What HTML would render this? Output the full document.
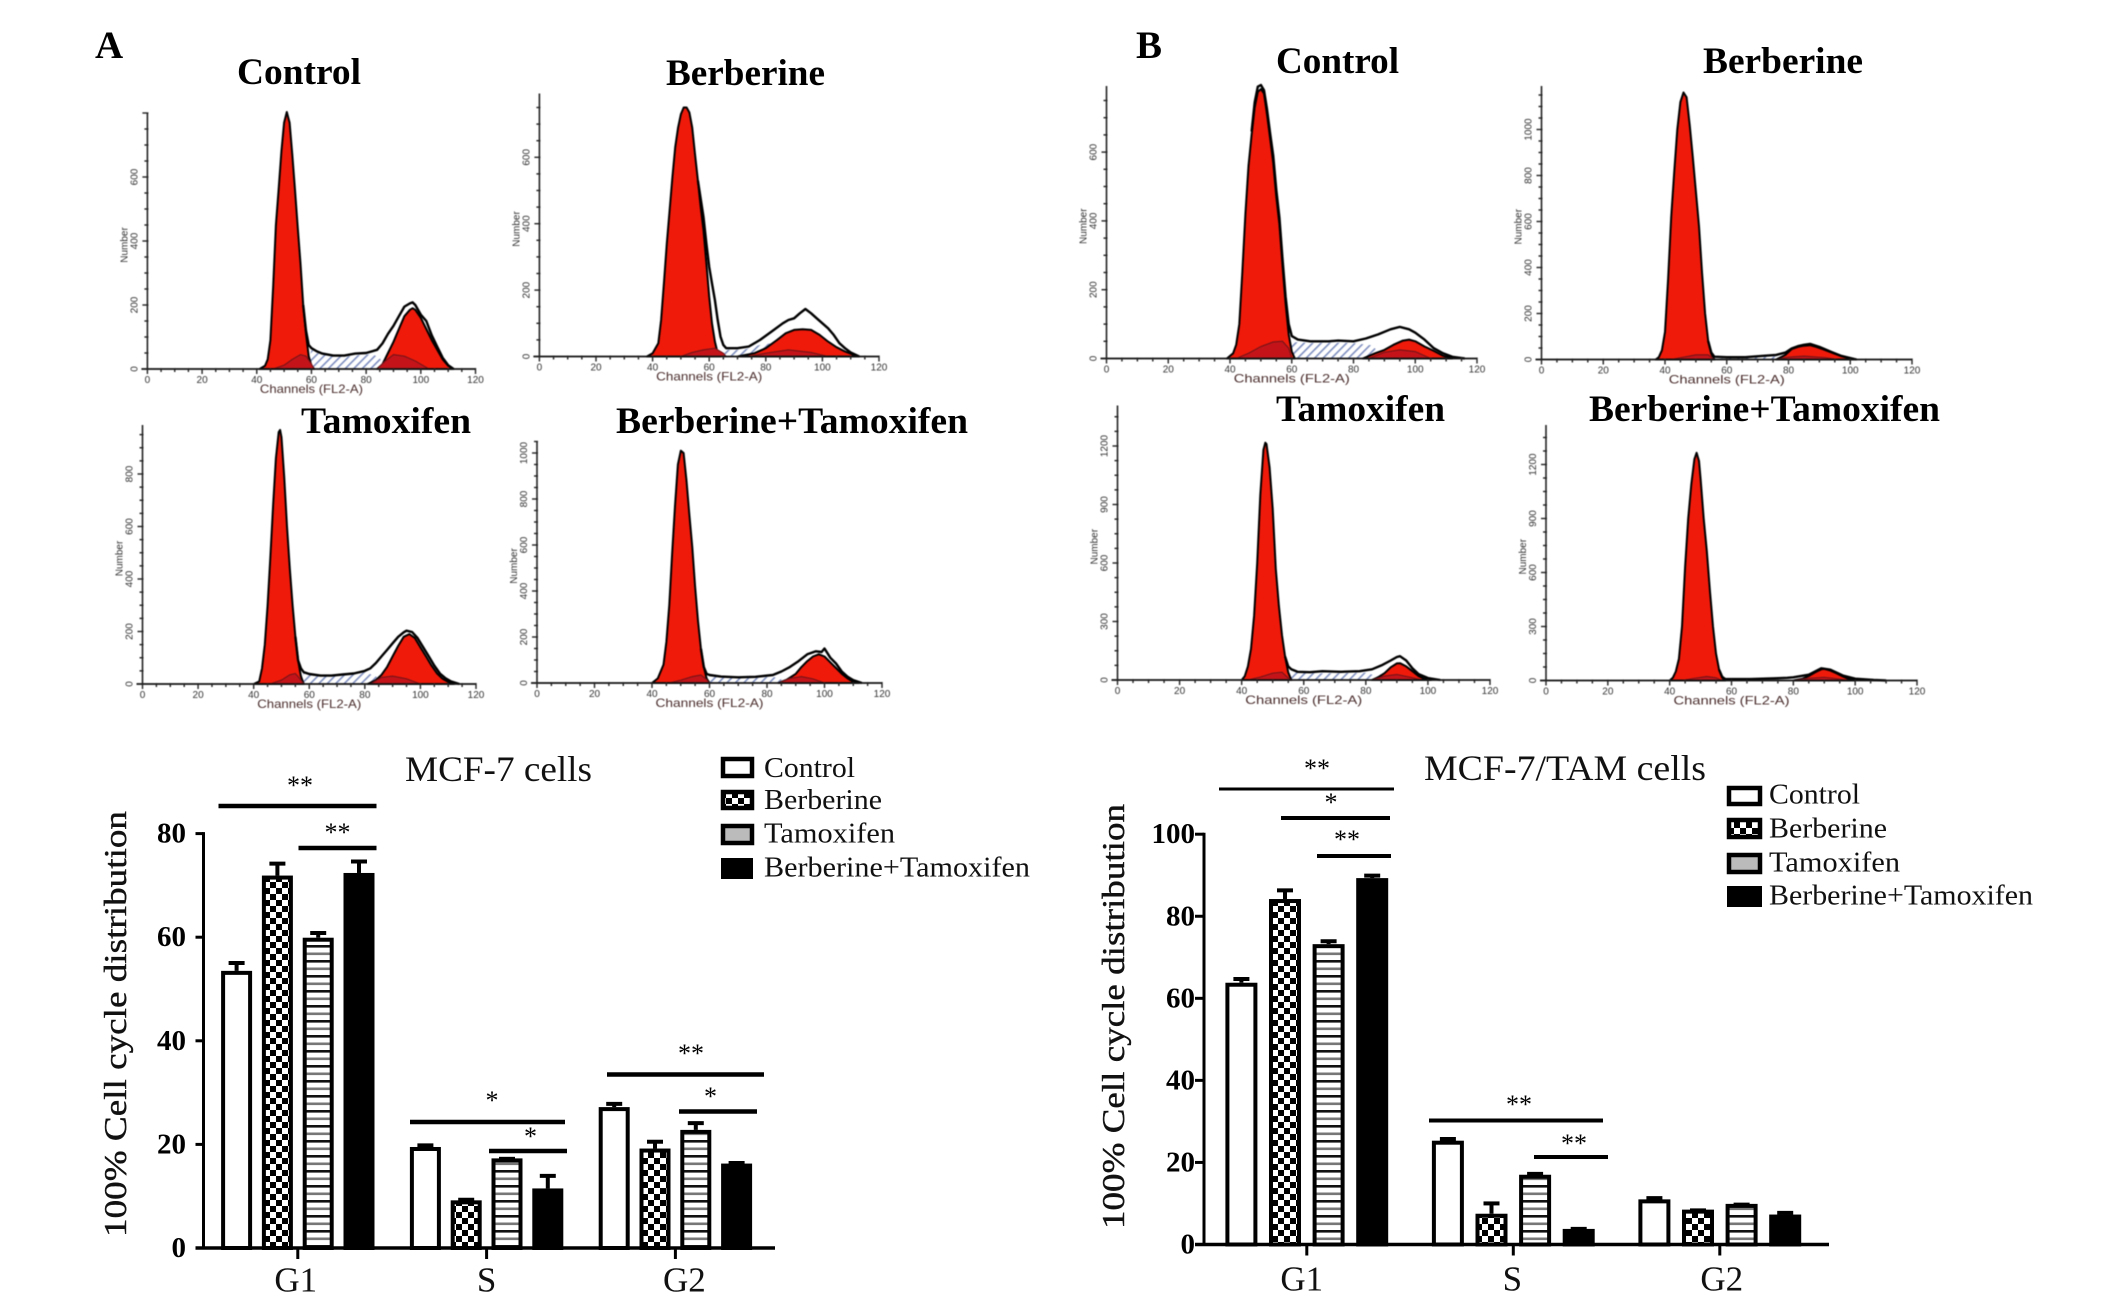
<!DOCTYPE html>
<html lang="en">
<head>
<meta charset="utf-8">
<title>Cell cycle distribution in MCF-7 and MCF-7/TAM cells</title>
<style>
html,body{margin:0;padding:0;background:#fff;width:2126px;height:1313px;overflow:hidden}
svg{display:block}
.panel{font-family:"Liberation Serif",serif;font-weight:bold;font-size:37px;fill:#000}
.letter{font-family:"Liberation Serif",serif;font-weight:bold;font-size:39px;fill:#000}
.ctitle{font-family:"Liberation Serif",serif;font-size:36px;fill:#111}
.ytitle{font-family:"Liberation Serif",serif;font-size:32px;fill:#111;stroke:#111;stroke-width:.4px}
.leg{font-family:"Liberation Serif",serif;font-size:29px;fill:#111}
.star{font-family:"Liberation Serif",serif;font-size:26px;fill:#000;text-anchor:middle}
.ytick{font-family:"Liberation Serif",serif;font-weight:bold;font-size:29px;fill:#000;text-anchor:end}
.cat{font-family:"Liberation Serif",serif;font-size:35px;fill:#111;text-anchor:middle}
.ft{font-family:"Liberation Sans",sans-serif;font-size:10px;fill:#333;text-anchor:middle}
.fc{font-family:"Liberation Sans",sans-serif;font-size:12px;fill:#4a2c2c;text-anchor:middle}
.fn{font-family:"Liberation Sans",sans-serif;font-size:10px;fill:#333;text-anchor:middle}
</style>
</head>
<body>
<svg id="fig" xmlns="http://www.w3.org/2000/svg" width="2126" height="1313" viewBox="0 0 2126 1313">
<defs>
<pattern id="checker" patternUnits="userSpaceOnUse" width="12" height="12"><rect width="12" height="12" fill="#fff"/><rect width="6" height="6" fill="#000"/><rect x="6" y="6" width="6" height="6" fill="#000"/></pattern>
<pattern id="stripes" patternUnits="userSpaceOnUse" width="15" height="15"><rect width="15" height="15" fill="#fff"/><rect y="0" width="15" height="2.6" fill="#111"/><rect y="7.5" width="15" height="2.6" fill="#777"/></pattern>
<pattern id="hatch" patternUnits="userSpaceOnUse" width="6" height="6" patternTransform="rotate(45)"><rect width="6" height="6" fill="#fff"/><rect width="1.6" height="6" fill="#7f8fc0"/></pattern>
</defs>
<rect width="2126" height="1313" fill="#fff"/>

<text class="letter" x="95" y="58">A</text>
<text class="letter" x="1136" y="58">B</text>

<text class="panel" x="237" y="84" textLength="124" lengthAdjust="spacingAndGlyphs">Control</text>
<text class="panel" x="666" y="85" textLength="159" lengthAdjust="spacingAndGlyphs">Berberine</text>
<text class="panel" x="301" y="433" textLength="170" lengthAdjust="spacingAndGlyphs">Tamoxifen</text>
<text class="panel" x="616" y="433" textLength="352" lengthAdjust="spacingAndGlyphs">Berberine+Tamoxifen</text>
<text class="panel" x="1276" y="73" textLength="123" lengthAdjust="spacingAndGlyphs">Control</text>
<text class="panel" x="1703" y="73" textLength="160" lengthAdjust="spacingAndGlyphs">Berberine</text>
<text class="panel" x="1276" y="421" textLength="169" lengthAdjust="spacingAndGlyphs">Tamoxifen</text>
<text class="panel" x="1589" y="421" textLength="351" lengthAdjust="spacingAndGlyphs">Berberine+Tamoxifen</text>

<g id="flows" style="filter:blur(0.45px)"></g>
<g id="barsA"></g>
<g id="barsB"></g>

<text class="ctitle" x="405" y="781" textLength="187" lengthAdjust="spacingAndGlyphs">MCF-7 cells</text>
<text class="ctitle" x="1424" y="780" textLength="282" lengthAdjust="spacingAndGlyphs">MCF-7/TAM cells</text>
<text class="ytitle" transform="translate(126,1237) rotate(-90)" textLength="426" lengthAdjust="spacingAndGlyphs">100% Cell cycle distribution</text>
<text class="ytitle" transform="translate(1124,1229) rotate(-90)" textLength="425" lengthAdjust="spacingAndGlyphs">100% Cell cycle distribution</text>

<g stroke="#000" stroke-width="4.5">
<line x1="218.5" x2="376.5" y1="806" y2="806"/>
<line x1="298.5" x2="376.5" y1="848" y2="848"/>
<line x1="410" x2="565" y1="1122" y2="1122"/>
<line x1="489" x2="567" y1="1151" y2="1151"/>
<line x1="607" x2="764" y1="1074.5" y2="1074.5"/>
<line x1="679" x2="757" y1="1111.5" y2="1111.5"/>
</g>
<g>
<text class="star" x="300" y="794">**</text>
<text class="star" x="337.5" y="841">**</text>
<text class="star" x="492" y="1109">*</text>
<text class="star" x="530.5" y="1145">*</text>
<text class="star" x="691" y="1062">**</text>
<text class="star" x="710.5" y="1105">*</text>
</g>
<g stroke="#000" stroke-width="4">
<line x1="1219" x2="1394" y1="789" y2="789" stroke-width="3"/>
<line x1="1281" x2="1390" y1="818" y2="818"/>
<line x1="1317" x2="1391" y1="856" y2="856"/>
<line x1="1429" x2="1603" y1="1120.5" y2="1120.5"/>
<line x1="1534" x2="1608" y1="1157" y2="1157"/>
</g>
<g>
<text class="star" x="1317" y="777">**</text>
<text class="star" x="1331" y="811">*</text>
<text class="star" x="1347" y="848">**</text>
<text class="star" x="1519" y="1113">**</text>
<text class="star" x="1574" y="1152">**</text>
</g>

<g>
<g><rect x="723" y="759" width="29" height="17" fill="#fff" stroke="#000" stroke-width="4.5"/><text class="leg" x="764" y="777" textLength="91" lengthAdjust="spacingAndGlyphs">Control</text></g>
<g><rect x="723" y="792" width="29" height="16" fill="url(#checker)" stroke="#000" stroke-width="4.5"/><text class="leg" x="764" y="809" textLength="118" lengthAdjust="spacingAndGlyphs">Berberine</text></g>
<g><rect x="723" y="826" width="29" height="17" fill="#bbb" stroke="#000" stroke-width="4.5"/><text class="leg" x="764" y="842.5" textLength="131" lengthAdjust="spacingAndGlyphs">Tamoxifen</text></g>
<g><rect x="721" y="858" width="32" height="21" fill="#000"/><text class="leg" x="764" y="876.5" textLength="266" lengthAdjust="spacingAndGlyphs">Berberine+Tamoxifen</text></g>
</g>
<g>
<g><rect x="1729" y="788" width="31" height="16" fill="#fff" stroke="#000" stroke-width="4.5"/><text class="leg" x="1769" y="803.5" textLength="91" lengthAdjust="spacingAndGlyphs">Control</text></g>
<g><rect x="1729" y="820" width="31" height="17" fill="url(#checker)" stroke="#000" stroke-width="4.5"/><text class="leg" x="1769" y="837.5" textLength="118" lengthAdjust="spacingAndGlyphs">Berberine</text></g>
<g><rect x="1729" y="855" width="31" height="17" fill="#bbb" stroke="#000" stroke-width="4.5"/><text class="leg" x="1769" y="871.5" textLength="131" lengthAdjust="spacingAndGlyphs">Tamoxifen</text></g>
<g><rect x="1727" y="886" width="35" height="21" fill="#000"/><text class="leg" x="1769" y="904.5" textLength="264" lengthAdjust="spacingAndGlyphs">Berberine+Tamoxifen</text></g>
</g>
</svg>

<script>
// ---------- Bar chart data ----------
const categories = ['G1', 'S', 'G2'];
const seriesFills = ['#fff', 'url(#checker)', 'url(#stripes)', '#000'];

const mcf7Ticks = [0, 20, 40, 60, 80];
const mcf7Control = [53.5, 19.5, 27.2];
const mcf7ControlErr = [1.9, 0.7, 1.0];
const mcf7Berberine = [71.9, 9.2, 19.2];
const mcf7BerberineErr = [2.7, 0.5, 1.7];
const mcf7Tamoxifen = [59.9, 17.3, 22.8];
const mcf7TamoxifenErr = [1.3, 0.3, 1.7];
const mcf7Combo = [72.4, 11.5, 16.3];
const mcf7ComboErr = [2.6, 2.8, 0.5];

const tamTicks = [0, 20, 40, 60, 80, 100];
const tamControl = [63.8, 25.3, 11.0];
const tamControlErr = [1.4, 0.9, 0.8];
const tamBerberine = [84.2, 7.5, 8.5];
const tamBerberineErr = [2.6, 3.0, 0.3];
const tamTamoxifen = [73.2, 17.0, 9.9];
const tamTamoxifenErr = [1.2, 0.7, 0.3];
const tamCombo = [89.3, 3.8, 7.3];
const tamComboErr = [1.1, 0.5, 0.9];

// ---------- Flow histogram data: [channel, count] ----------
const channelTicks = [0, 20, 40, 60, 80, 100, 120];

const a1Ticks = [0, 200, 400, 600];
const a1G1 = [[41,0],[43,10],[44,30],[45,90],[46,260],[47,450],[48,560],[49,680],[50,770],[51,803],[52,770],[53,670],[54,560],[55,440],[56,330],[57,200],[58,110],[59,40],[60,10],[61,0]];
const a1G2 = [[84,0],[86,15],[88,50],[90,85],[92,125],[94,165],[96,185],[97,190],[98,185],[100,160],[102,125],[104,90],[106,60],[108,30],[110,10],[112,0]];
const a1Outline = [[57,200],[58,120],[59,75],[60,65],[62,55],[64,48],[68,42],[72,42],[76,48],[80,50],[84,60],[86,80],[88,110],[90,135],[92,165],[94,195],[96,205],[97,208],[98,200],[100,170],[102,150],[104,105],[106,70],[108,35],[110,12],[112,0]];
const a1Hatch = [[58,0],[60,60],[62,50],[66,42],[70,40],[74,40],[78,44],[82,46],[84,40],[86,25],[88,0]];
const a1HumpA = [[46,0],[50,12],[53,30],[56,45],[58,40],[60,15],[61,0]];
const a1HumpB = [[84,0],[87,25],[90,45],[94,40],[98,25],[103,0]];

const a2Ticks = [0, 200, 400, 600];
const a2G1 = [[38,0],[40,10],[42,40],[43,110],[44,220],[45,340],[46,440],[47,540],[48,630],[49,690],[50,730],[51,750],[52,750],[53,735],[54,690],[55,610],[56,530],[57,450],[58,380],[59,280],[60,180],[61,100],[62,45],[63,10],[64,0]];
const a2G2 = [[70,0],[76,10],[80,25],[84,50],[87,70],[90,80],[93,82],[96,80],[99,65],[102,45],[105,28],[108,15],[111,5],[113,0]];
const a2Outline = [[56,530],[58,420],[59,340],[60,270],[61,220],[62,170],[63,110],[64,60],[65,35],[66,25],[70,25],[74,30],[78,50],[82,75],[86,100],[88,110],[90,115],[92,130],[94,143],[96,130],[98,115],[100,100],[102,85],[104,65],[106,40],[108,25],[110,12],[113,0]];
const a2Hatch = [[64,0],[66,20],[72,20],[78,35],[82,40],[84,0]];
const a2HumpA = [[50,0],[54,12],[58,20],[62,25],[65,10],[66,0]];
const a2HumpB = [[74,0],[80,10],[88,20],[96,12],[102,0]];

const a3Ticks = [0, 200, 400, 600, 800];
const a3G1 = [[40,0],[42,10],[43,60],[44,150],[45,300],[46,480],[47,680],[48,860],[49,960],[49.5,968],[50,940],[51,790],[52,600],[53,440],[54,300],[55,180],[56,90],[57,30],[58,0]];
const a3G2 = [[81,0],[84,15],[86,35],[88,65],[90,105],[92,145],[94,180],[96,190],[98,175],[100,140],[102,105],[104,70],[106,40],[108,20],[110,8],[112,0]];
const a3Outline = [[55,180],[56,90],[57,60],[58,45],[60,38],[64,32],[68,32],[72,36],[76,40],[80,50],[82,60],[84,80],[86,105],[88,130],[90,155],[92,180],[94,197],[95,203],[97,198],[99,175],[101,140],[103,105],[105,70],[107,40],[109,22],[111,10],[114,0]];
const a3Hatch = [[56,0],[58,40],[62,32],[70,32],[76,38],[80,45],[84,30],[86,0]];
const a3HumpA = [[46,0],[50,15],[53,35],[55,40],[57,15],[58,0]];
const a3HumpB = [[82,0],[86,25],[90,30],[95,20],[100,0]];

const a4Ticks = [0, 200, 400, 600, 800, 1000];
const a4G1 = [[40,0],[42,20],[44,80],[45,180],[46,340],[47,560],[48,770],[49,950],[50,1010],[51,1000],[52,880],[53,730],[54,590],[55,420],[56,270],[57,150],[58,70],[59,20],[60,0]];
const a4G2 = [[84,0],[87,15],[90,40],[92,70],[94,95],[96,115],[98,125],[100,115],[102,90],[104,65],[106,40],[108,20],[110,5],[112,0]];
const a4Outline = [[57,150],[58,70],[59,40],[60,35],[64,28],[70,25],[76,27],[82,35],[85,50],[88,70],[91,95],[94,125],[97,138],[99,135],[100,150],[102,110],[104,85],[106,50],[108,28],[110,12],[113,0]];
const a4Hatch = [[59,0],[60,30],[66,22],[76,22],[82,28],[85,15],[87,0]];
const a4HumpA = [[46,0],[50,12],[54,28],[57,35],[59,15],[60,0]];
const a4HumpB = [[84,0],[88,20],[92,28],[96,18],[100,0]];

const b1Ticks = [0, 200, 400, 600];
const b1G1 = [[39,0],[41,15],[42,40],[43,100],[44,250],[45,420],[46,560],[47,650],[48,730],[49,775],[50,783],[51,770],[52,710],[53,640],[54,570],[55,470],[56,390],[57,270],[58,160],[59,70],[60,20],[61,0]];
const b1G2 = [[83,0],[87,15],[90,25],[93,40],[96,52],[98,55],[100,50],[103,35],[106,22],[109,8],[112,0]];
const b1Outline = [[47,660],[48,745],[49,790],[50,795],[51,780],[52,725],[53,655],[54,590],[55,490],[56,410],[57,290],[58,180],[59,100],[60,65],[62,55],[66,50],[72,50],[75,52],[80,50],[84,58],[88,70],[92,85],[95,92],[98,85],[100,75],[103,55],[106,30],[109,15],[112,5],[116,0]];
const b1Hatch = [[58,0],[60,48],[66,45],[74,46],[80,45],[86,38],[88,20],[90,0]];
const b1HumpA = [[42,0],[46,15],[50,35],[54,48],[57,50],[59,30],[60,0]];
const b1HumpB = [[85,0],[90,18],[95,25],[100,20],[105,0]];

const b2Ticks = [0, 200, 400, 600, 800, 1000];
const b2G1 = [[37,0],[38,10],[39,40],[40,120],[41,350],[42,620],[43,820],[44,1000],[45,1120],[46,1161],[47,1140],[48,1020],[49,880],[50,730],[51,580],[52,380],[53,200],[54,80],[55,25],[56,0]];
const b2G2 = [[76,0],[79,20],[81,45],[83,55],[85,60],[87,62],[89,55],[91,45],[94,30],[97,15],[100,5],[102,0]];
const b2Outline = [[54,80],[55,30],[56,12],[60,10],[66,10],[72,16],[76,20],[79,30],[81,48],[83,58],[85,64],[87,68],[90,55],[94,32],[97,16],[102,0]];
const b2Hatch = [[55,0],[60,8],[70,10],[76,14],[78,0]];
const b2HumpA = [[42,0],[46,10],[50,20],[54,20],[56,0]];
const b2HumpB = [[76,0],[80,10],[85,15],[92,8],[96,0]];

const b3Ticks = [0, 300, 600, 900, 1200];
const b3G1 = [[40,0],[41,20],[42,70],[43,160],[44,330],[45,600],[46,950],[47,1180],[47.6,1217],[48,1210],[49,1090],[50,880],[51,570],[52,380],[53,230],[54,120],[55,40],[56,0]];
const b3G2 = [[82,0],[84,15],[86,35],[88,65],[90,85],[91,86],[93,70],[95,45],[97,20],[99,5],[101,0]];
const b3Outline = [[54,120],[55,70],[56,55],[58,42],[62,40],[66,45],[72,42],[78,45],[82,55],[85,75],[88,100],[90,118],[91,122],[93,100],[95,60],[97,30],[100,10],[104,0]];
const b3Hatch = [[55,0],[57,40],[64,35],[72,35],[80,38],[84,18],[86,0]];
const b3HumpA = [[42,0],[46,15],[50,35],[53,40],[55,10],[56,0]];
const b3HumpB = [[82,0],[86,20],[90,28],[94,15],[98,0]];

const b4Ticks = [0, 300, 600, 900, 1200];
const b4G1 = [[40,0],[41,15],[42,50],[43,120],[44,300],[45,630],[46,900],[47,1090],[48,1230],[48.7,1265],[49.5,1220],[50,1120],[51,900],[52,720],[53,500],[54,300],[55,150],[56,60],[57,15],[58,0]];
const b4G2 = [[80,0],[83,10],[85,25],[87,45],[89,62],[90,65],[92,55],[94,40],[96,22],[98,8],[100,0]];
const b4Outline = [[56,60],[57,20],[58,8],[66,8],[74,12],[78,15],[80,18],[85,32],[89,68],[92,60],[96,28],[100,10],[106,3],[110,0]];
const b4Hatch = [];
const b4HumpA = [[44,0],[48,12],[52,22],[55,15],[57,0]];
const b4HumpB = [[80,0],[85,12],[90,18],[95,8],[98,0]];

// ---------- Drawing ----------
const NS = 'http://www.w3.org/2000/svg';
function mk(tag, parent, attrs) {
  const el = document.createElementNS(NS, tag);
  for (const k in attrs) el.setAttribute(k, attrs[k]);
  parent.appendChild(el);
  return el;
}

function drawBars(target, f, yTicks, values, errors) {
  const y = v => f.y0 - v * f.unit;
  const gx = i => f.center0 + i * f.groupStep;

  values.forEach((series, s) => {
    series.forEach((v, c) => {
      const cx = gx(c) + (s - 1.5) * f.barStep;
      const stem = mk('line', target, {x1: cx, x2: cx, y1: y(v), y2: y(v + errors[s][c]) + 2, stroke: '#000', 'stroke-width': 4});
      
      
      const cap = mk('line', target, {x1: cx - 8, x2: cx + 8, y1: y(v + errors[s][c]) + 2, y2: y(v + errors[s][c]) + 2, stroke: '#000', 'stroke-width': 4});
      
      
      const bar = mk('rect', target, {x: cx - f.barW / 2 + 2, y: y(v) + 2, width: f.barW - 4, height: Math.max(0, f.y0 - y(v) - 2), fill: seriesFills[s], stroke: '#000', 'stroke-width': 4});
      
      
    });
  });

  const yAxis = mk('line', target, {x1: f.axisX, x2: f.axisX, y1: y(yTicks[yTicks.length - 1]) - 1.5, y2: f.y0, stroke: '#000', 'stroke-width': 3});
  
  
  const xAxis = mk('line', target, {x1: f.xStart, x2: f.xEnd, y1: f.y0, y2: f.y0, stroke: '#000', 'stroke-width': 3.5});
  
  

  yTicks.forEach(t => {
    const tick = mk('line', target, {x1: f.xStart, x2: f.axisX, y1: y(t), y2: y(t), stroke: '#000', 'stroke-width': 3});
    
    
    const lab = mk('text', target, {class: 'ytick', x: f.labelX, y: y(t) + 9});
    
    
    lab.textContent = t;
  });
  categories.forEach((name, i) => {
    const tick = mk('line', target, {x1: gx(i), x2: gx(i), y1: f.y0, y2: f.y0 + 11, stroke: '#000', 'stroke-width': 3});
    
    
    const lab = mk('text', target, {class: 'cat', x: gx(i) + f.catShift[i], y: f.catY});
    
    
    lab.textContent = name;
  });
}

function drawFlow(target, f, ticks, g1, g2, outline, hatch, humpA, humpB) {
  const x = c => f.x0 + c * (f.x120 - f.x0) / 120;
  const y = n => f.y0 - n * f.unit;
  const pts = a => a.map(p => x(p[0]).toFixed(1) + ',' + y(p[1]).toFixed(1)).join(' ');
  const g = mk('g', target, {});
  
  

  if (hatch.length) {
    const h = mk('polygon', g, {points: pts(hatch), fill: 'url(#hatch)'});
    
    
  }
  const peak1 = mk('polygon', g, {points: pts(g1), fill: '#f01a0a', stroke: '#000', 'stroke-width': 2, 'stroke-linejoin': 'round'});
  
  
  const peak2 = mk('polygon', g, {points: pts(g2), fill: '#f01a0a', stroke: '#000', 'stroke-width': 2, 'stroke-linejoin': 'round'});
  
  
  const h1 = mk('polygon', g, {points: pts(humpA), fill: '#c4141a', stroke: '#7a1418', 'stroke-width': 1.2});
  
  
  const h2 = mk('polygon', g, {points: pts(humpB), fill: '#c4141a', stroke: '#7a1418', 'stroke-width': 1.2});
  
  
  const line = mk('polyline', g, {points: pts(outline), fill: 'none', stroke: '#000', 'stroke-width': 2.4, 'stroke-linejoin': 'round'});
  
  

  const yAxis = mk('line', g, {x1: f.x0, x2: f.x0, y1: f.top, y2: f.y0, stroke: '#222', 'stroke-width': 1.6});
  
  
  const xAxis = mk('line', g, {x1: f.x0 - 6, x2: f.x120, y1: f.y0, y2: f.y0, stroke: '#111', 'stroke-width': 1.8});
  
  

  for (let c = 0; c <= 120; c += 5) {
    const major = c % 20 === 0;
    const t = mk('line', g, {x1: x(c), x2: x(c), y1: f.y0 - 1, y2: f.y0 + (major ? 5 : 3), stroke: '#222', 'stroke-width': 1.4});
    
    
  }
  channelTicks.forEach(c => {
    const lab = mk('text', g, {class: 'ft', x: x(c), y: f.y0 + 14});
    
    
    lab.textContent = c;
  });
  const step = ticks[1] / 4;
  for (let n = 0; y(n) >= f.top; n += step) {
    const major = n % ticks[1] === 0;
    const t = mk('line', g, {x1: f.x0 - (major ? 5 : 3), x2: f.x0 + 1, y1: y(n), y2: y(n), stroke: '#222', 'stroke-width': 1.4});
    
    
  }
  ticks.forEach(n => {
    const px = f.x0 - 10;
    const lab = mk('text', g, {class: 'ft', transform: 'translate(' + px + ',' + y(n) + ') rotate(-90)'});
    
    
    lab.textContent = n;
  });
  const xt = mk('text', g, {class: 'fc', x: x(60), y: f.y0 + 24, textLength: (0.313 * (f.x120 - f.x0)).toFixed(0), lengthAdjust: 'spacingAndGlyphs'});
  
  
  xt.textContent = 'Channels (FL2-A)';
  const yt = mk('text', g, {class: 'fn', transform: 'translate(' + (f.x0 - 20) + ',' + ((f.y0 + f.top) / 2 + 4) + ') rotate(-90)'});
  
  
  yt.textContent = 'Number';
}

const flows = document.getElementById('flows');
drawFlow(flows, {x0:147.4, x120:475.5, y0:369, top:113, unit:0.32}, a1Ticks, a1G1, a1G2, a1Outline, a1Hatch, a1HumpA, a1HumpB);
drawFlow(flows, {x0:539.4, x120:879, y0:356.5, top:93.5, unit:0.332}, a2Ticks, a2G1, a2G2, a2Outline, a2Hatch, a2HumpA, a2HumpB);
drawFlow(flows, {x0:142.5, x120:476, y0:684, top:425, unit:0.2625}, a3Ticks, a3G1, a3G2, a3Outline, a3Hatch, a3HumpA, a3HumpB);
drawFlow(flows, {x0:537, x120:882, y0:683, top:441, unit:0.23}, a4Ticks, a4G1, a4G2, a4Outline, a4Hatch, a4HumpA, a4HumpB);
drawFlow(flows, {x0:1106.5, x120:1477, y0:358.5, top:86, unit:0.344}, b1Ticks, b1G1, b1G2, b1Outline, b1Hatch, b1HumpA, b1HumpB);
drawFlow(flows, {x0:1541.5, x120:1912, y0:359.5, top:86, unit:0.23}, b2Ticks, b2G1, b2G2, b2Outline, b2Hatch, b2HumpA, b2HumpB);
drawFlow(flows, {x0:1117.5, x120:1490, y0:680, top:405.5, unit:0.195}, b3Ticks, b3G1, b3G2, b3Outline, b3Hatch, b3HumpA, b3HumpB);
drawFlow(flows, {x0:1546, x120:1917, y0:680.5, top:425, unit:0.18}, b4Ticks, b4G1, b4G2, b4Outline, b4Hatch, b4HumpA, b4HumpB);

drawBars(document.getElementById('barsA'),
  {y0:1248, unit:5.18, center0:297.8, groupStep:188.8, barStep:40.8, barW:31, axisX:203.5, xStart:195.5, xEnd:775, labelX:186, catShift:[-2,0,9], catY:1291.5},
  mcf7Ticks,
  [mcf7Control, mcf7Berberine, mcf7Tamoxifen, mcf7Combo],
  [mcf7ControlErr, mcf7BerberineErr, mcf7TamoxifenErr, mcf7ComboErr]);

drawBars(document.getElementById('barsB'),
  {y0:1244.5, unit:4.103, center0:1306.8, groupStep:206.5, barStep:43.6, barW:32, axisX:1204, xStart:1195, xEnd:1829, labelX:1195, catShift:[-5,-1,2], catY:1290.5},
  tamTicks,
  [tamControl, tamBerberine, tamTamoxifen, tamCombo],
  [tamControlErr, tamBerberineErr, tamTamoxifenErr, tamComboErr]);
</script>
</body>
</html>
